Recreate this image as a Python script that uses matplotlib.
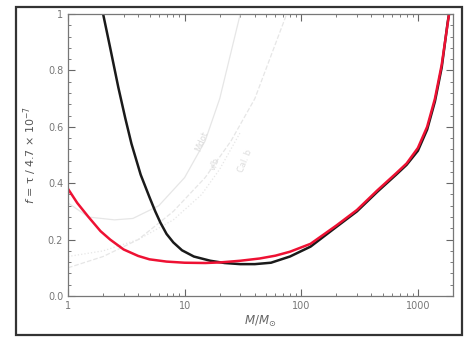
import numpy as np
import matplotlib.pyplot as plt
from matplotlib.patches import Rectangle
from matplotlib.ticker import FixedLocator, NullFormatter, MultipleLocator

# values
black_m = [2.0, 2.3, 2.7, 3.1, 3.5, 4.2, 5.0, 5.6, 6.2, 7.0, 8.0, 9.5, 12, 16.6,
           22, 30, 40, 55, 80, 120, 200, 300, 450, 650, 800, 1000, 1200, 1400,
           1600, 1800, 1850]
black_f = [1.0, 0.88, 0.74, 0.63, 0.54, 0.43, 0.35, 0.3, 0.26, 0.22, 0.19, 0.162,
           0.14, 0.125, 0.117, 0.113, 0.113, 0.118, 0.14, 0.175, 0.245, 0.3, 0.37,
           0.43, 0.465, 0.515, 0.59, 0.69, 0.81, 0.97, 1.0]
red_m = [1.0, 1.2, 1.5, 1.9, 2.3, 3.0, 4.0, 5.0, 7.0, 10, 15, 20, 30, 44, 60, 80,
         120, 200, 300, 450, 650, 800, 1000, 1200, 1400, 1600, 1850]
red_f = [0.38, 0.33, 0.28, 0.23, 0.2, 0.165, 0.142, 0.13, 0.122, 0.118, 0.117,
         0.119, 0.125, 0.133, 0.143, 0.157, 0.185, 0.25, 0.305, 0.375, 0.435, 0.47,
         0.525, 0.6, 0.7, 0.82, 1.0]

# faint background curves
ghost_a_m = [1.0, 1.5, 2.5, 3.6, 6, 10, 15, 20, 30]
ghost_a_f = [0.33, 0.28, 0.27, 0.275, 0.32, 0.42, 0.55, 0.7, 1.0]
ghost_b_m = [1.0, 2, 4, 8, 15, 25, 40, 75]
ghost_b_f = [0.10, 0.14, 0.2, 0.3, 0.42, 0.55, 0.7, 1.0]
ghost_c_m = [1.0, 2, 4, 8, 14, 20, 30]
ghost_c_f = [0.14, 0.16, 0.2, 0.27, 0.36, 0.45, 0.58]
ghost_labels = ['Mdot', 'v/b', 'Cal. b']
ghost_pos = [(14, 0.55), (18, 0.47), (33, 0.48)]

xticks = [1, 10, 100, 1000]
xticklabels = ['1', '10', '100', '1000']
yticks = [0.0, 0.2, 0.4, 0.6, 0.8, 1.0]
yticklabels = ['0.0', '0.2', '0.4', '0.6', '0.8', '1']

fig = plt.figure(figsize=(4.73, 3.38), dpi=100)
fig.patches.append(Rectangle((16 / 473, 3 / 338), 446 / 473, 328 / 338,
                             transform=fig.transFigure, fill=False,
                             edgecolor='#333333', lw=1.6))
ax = fig.add_axes([68 / 473, 42 / 338, 385 / 473, 282 / 338])

gc = '#e6e6e6'
ax.plot(ghost_a_m, ghost_a_f, color=gc, lw=0.9)
ax.plot(ghost_b_m, ghost_b_f, color=gc, lw=0.9, ls='--')
ax.plot(ghost_c_m, ghost_c_f, color=gc, lw=0.9, ls=':')
for lab, (gx, gy) in zip(ghost_labels, ghost_pos):
    ax.text(gx, gy, lab, color='#dcdcdc', fontsize=6, rotation=68,
            ha='center', va='center')

ax.plot(black_m, black_f, color='#1a1a1a', lw=1.8)
ax.plot(red_m, red_f, color='#ee1133', lw=1.8)

ax.set_xscale('log')
ax.set_xlim(1, 2000)
ax.set_ylim(0, 1)
ax.set_xticks(xticks)
ax.set_xticklabels(xticklabels)
ax.xaxis.set_minor_locator(FixedLocator(
    [m * 10 ** e for e in range(0, 4) for m in range(2, 10) if m * 10 ** e < 2000]))
ax.xaxis.set_minor_formatter(NullFormatter())
ax.set_yticks(yticks)
ax.set_yticklabels(yticklabels)
ax.yaxis.set_minor_locator(MultipleLocator(0.04))

ax.tick_params(which='both', direction='in', top=True, right=True,
               color='#666666', labelcolor='#777777', labelsize=7)
ax.tick_params(which='major', length=5, width=0.8)
ax.tick_params(which='minor', length=2.5, width=0.6)
for s in ax.spines.values():
    s.set_color('#777777')
    s.set_linewidth(0.9)

ax.set_xlabel(r'$M/M_{\odot}$', color='#666666', fontsize=8.5, labelpad=2)
ax.set_ylabel(r'$f$ = τ / 4.7 × 10$^{-7}$', color='#555555',
              fontsize=8, labelpad=6)

fig.savefig('out.png', dpi=100)
